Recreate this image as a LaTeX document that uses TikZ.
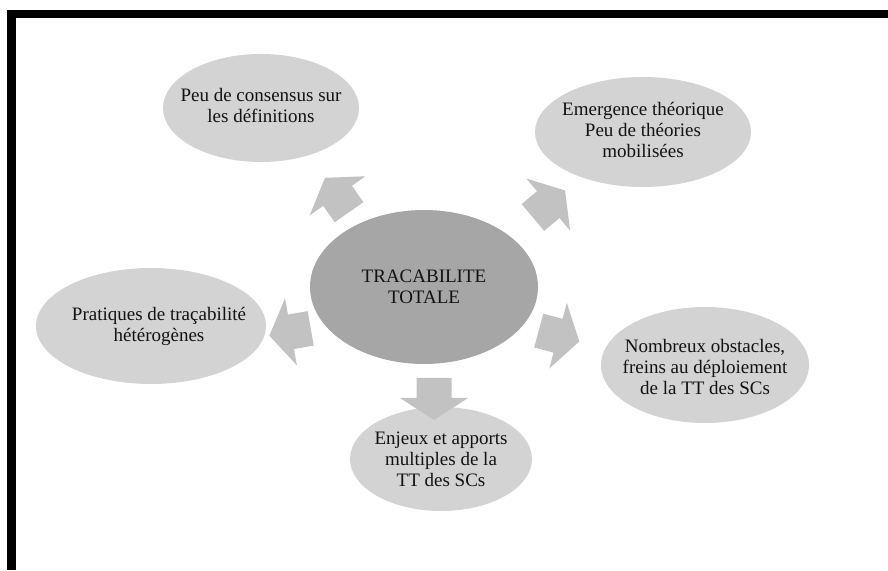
\documentclass[tikz,border=0pt]{standalone}
\usepackage{fontspec}
\setmainfont{Liberation Serif}
\usetikzlibrary{shapes.geometric}
\definecolor{bubblegray}{HTML}{D3D3D3}
\definecolor{coregray}{HTML}{A6A6A6}
\definecolor{arrowgray}{HTML}{C2C2C2}
\definecolor{inkgray}{HTML}{121212}
\tikzset{
  bubble/.style={ellipse, fill=bubblegray, draw=none, inner sep=0pt},
  core/.style={ellipse, fill=coregray, draw=none, inner sep=0pt},
  caption/.style={align=center, text=inkgray, inner sep=0pt,
    font=\fontsize{19}{21}\selectfont},
  % block arrow pointing along +x, centred on the origin
  blockarrow/.pic={
    \fill[arrowgray] (-21,17.5) -- (-1,17.5) -- (-1,34) -- (21,0)
      -- (-1,-34) -- (-1,-17.5) -- (-21,-17.5) -- cycle;
  }
}
\begin{document}
\begin{tikzpicture}[x=1pt, y=1pt]
  \useasboundingbox (0,0) rectangle (888,570);
  \fill[white] (0,0) rectangle (888,570);

  % frame
  \fill[black] (7,551.5) rectangle (888,560);
  \fill[black] (7,0) rectangle (15.5,560);

  % central theme
  \node[core, minimum width=228pt, minimum height=154pt] (c) at (424,283) {};
  \node[caption] at (c) {TRACABILITE\\TOTALE};

  % surrounding themes
  \node[bubble, minimum width=196pt, minimum height=108pt] (tl) at (261,462) {};
  \node[caption] at ([yshift=2pt]tl) {Peu de consensus sur\\les définitions};

  \node[bubble, minimum width=216pt, minimum height=110pt] (tr) at (643,438) {};
  \node[caption] at ([yshift=2pt]tr) {Emergence théorique\\Peu de théories\\mobilisées};

  \node[bubble, minimum width=208pt, minimum height=116pt] (r) at (705,205) {};
  \node[caption] at ([yshift=-2pt]r) {Nombreux obstacles,\\freins au déploiement\\de la TT des SCs};

  \node[bubble, minimum width=230pt, minimum height=116pt] (l) at (151,244) {};
  \node[caption] at ([xshift=8pt]l) {Pratiques de traçabilité\\hétérogènes};

  \node[bubble, minimum width=182pt, minimum height=104pt] (b) at (441,111) {};
  \node[caption] at (b) {Enjeux et apports\\multiples de la\\TT des SCs};

  % arrows radiating from the centre
  \pic[rotate=125] at (337,375) {blockarrow};
  \pic[rotate=40]  at (549,366) {blockarrow};
  \pic[rotate=-15] at (559,234) {blockarrow};
  \pic[rotate=190] at (290,238) {blockarrow};
  \pic[rotate=-90] at (434,171) {blockarrow};
\end{tikzpicture}
\end{document}
